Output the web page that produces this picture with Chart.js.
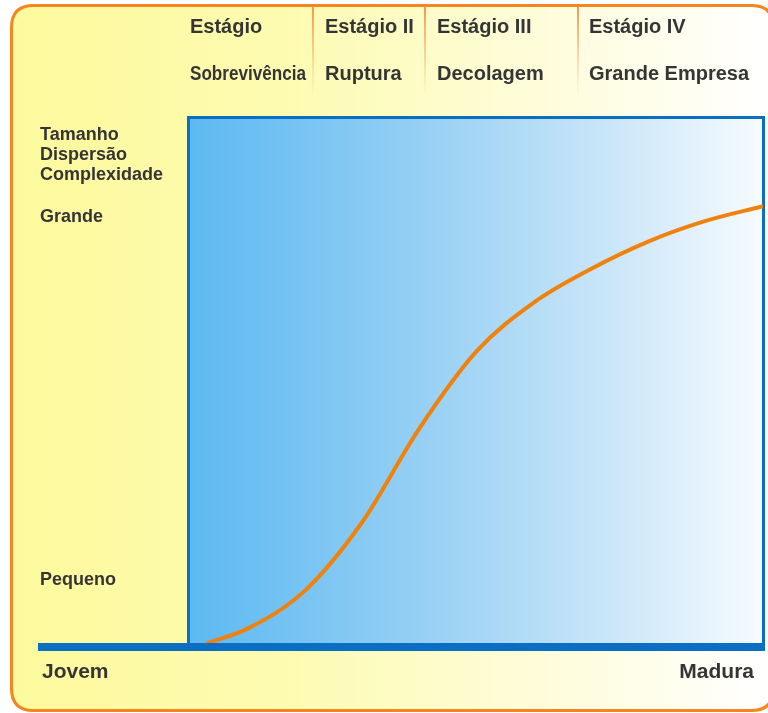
<!DOCTYPE html>
<html>
<head>
<meta charset="utf-8">
<script src="https://cdn.jsdelivr.net/npm/chart.js@4.4.1/dist/chart.umd.min.js"></script>
<style>
  html, body { margin: 0; padding: 0; background: #fff; }
  #wrap { position: relative; width: 768px; height: 713px; }
</style>
</head>
<body>
<div id="wrap"><canvas id="myChart"></canvas></div>
<script>
// curve (x: idade 0..100, y: tamanho 0..100)
const idade = [3, 10, 20, 30, 40, 50, 60, 70, 80, 90, 100];
const tamanho = [0.5, 3.2, 10.3, 23.2, 41, 55.7, 65, 71.4, 76.6, 80.5, 83.3];

// header
const stageTitles = ['Estágio', 'Estágio II', 'Estágio III', 'Estágio IV'];
const stageNames = ['Sobrevivência', 'Ruptura', 'Decolagem', 'Grande Empresa'];
// y side
const yTitle = ['Tamanho', 'Dispersão', 'Complexidade'];
const yLabels = ['Grande', 'Pequeno'];
// x side
const xLabels = ['Jovem', 'Madura'];

(() => {
  'use strict'

  const FONT = '"Liberation Sans", Arial, sans-serif';
  const TEXT = '#353535';
  const BLUE = '#0a6fc3';

  function roundRect(ctx, x, y, w, h, r) {
    ctx.beginPath();
    ctx.moveTo(x + r, y);
    ctx.lineTo(x + w - r, y);
    ctx.quadraticCurveTo(x + w, y, x + w, y + r);
    ctx.lineTo(x + w, y + h - r);
    ctx.quadraticCurveTo(x + w, y + h, x + w - r, y + h);
    ctx.lineTo(x + r, y + h);
    ctx.quadraticCurveTo(x, y + h, x, y + h - r);
    ctx.lineTo(x, y + r);
    ctx.quadraticCurveTo(x, y, x + r, y);
    ctx.closePath();
  }

  // panel, stage dividers and the blue box behind the curve
  const backdrop = {
    id: 'backdrop',
    beforeDraw(chart) {
      const {ctx, chartArea: a, width, height} = chart;
      ctx.save();
      ctx.fillStyle = '#fff';
      ctx.fillRect(0, 0, width, height);

      let g = ctx.createLinearGradient(12, 0, 768, 0);
      g.addColorStop(0, '#fdf99d');
      g.addColorStop(0.35, '#fdfbb0');
      g.addColorStop(0.75, '#fefde0');
      g.addColorStop(1, '#ffffff');
      roundRect(ctx, 11.5, 5.5, 762, 705, 22);
      ctx.fillStyle = g;
      ctx.fill();
      ctx.lineWidth = 3;
      ctx.strokeStyle = '#f5861f';
      ctx.stroke();

      // stage dividers
      [313, 425, 578].forEach(x => {
        let dg = ctx.createLinearGradient(0, 6, 0, 96);
        dg.addColorStop(0, 'rgba(240,140,60,0.9)');
        dg.addColorStop(1, 'rgba(240,170,110,0)');
        ctx.fillStyle = dg;
        ctx.fillRect(x - 1, 6, 2, 90);
      });

      // blue box
      let bg = ctx.createLinearGradient(a.left, 0, a.right, 0);
      bg.addColorStop(0, '#5cb9f1');
      bg.addColorStop(0.4, '#95cff4');
      bg.addColorStop(0.75, '#cde7f9');
      bg.addColorStop(1, '#f6fbff');
      ctx.fillStyle = bg;
      ctx.fillRect(a.left, a.top, a.right - a.left, a.bottom - a.top);
      ctx.lineWidth = 3;
      ctx.strokeStyle = BLUE;
      ctx.strokeRect(a.left - 0.5, a.top - 0.5, a.right - a.left + 1, a.bottom - a.top + 1);
      ctx.restore();
    },
    afterDatasetsDraw(chart) {
      const {ctx, chartArea: a} = chart;
      ctx.save();
      // thick base line
      ctx.fillStyle = BLUE;
      ctx.fillRect(38, a.bottom - 3, a.right + 2 - 38, 8);

      ctx.fillStyle = TEXT;
      ctx.textBaseline = 'alphabetic';
      ctx.textAlign = 'left';

      // header rows
      const stageX = [190, 325, 437, 589];
      ctx.font = 'bold 20px ' + FONT;
      stageTitles.forEach((t, i) => ctx.fillText(t, stageX[i], 33));
      stageNames.forEach((t, i) => {
        if (i === 0) ctx.fillText(t, stageX[i], 80, 116);
        else ctx.fillText(t, stageX[i], 80);
      });

      // y side
      ctx.font = 'bold 18px ' + FONT;
      yTitle.forEach((t, i) => ctx.fillText(t, 40, 140 + i * 20));
      ctx.fillText(yLabels[0], 40, 222);
      ctx.fillText(yLabels[1], 40, 585);

      // x side
      ctx.font = 'bold 21px ' + FONT;
      ctx.fillText(xLabels[0], 42, 678);
      ctx.textAlign = 'right';
      ctx.fillText(xLabels[1], 754, 678);
      ctx.restore();
    }
  };

  const ctx = document.getElementById('myChart');
  // eslint-disable-next-line no-unused-vars
  const myChart = new Chart(ctx, {
    type: 'line',
    data: {
      datasets: [{
        data: idade.map((x, i) => ({x: x, y: tamanho[i]})),
        borderColor: '#f0820c',
        borderWidth: 4,
        pointRadius: 0,
        cubicInterpolationMode: 'monotone',
        fill: false
      }]
    },
    options: {
      responsive: true,
      maintainAspectRatio: false,
      animation: false,
      layout: {
        padding: {left: 189, right: 5, top: 118, bottom: 67}
      },
      scales: {
        x: {type: 'linear', min: 0, max: 100, display: false},
        y: {type: 'linear', min: 0, max: 100, display: false}
      },
      plugins: {
        legend: {display: false},
        tooltip: {enabled: false}
      }
    },
    plugins: [backdrop]
  });
})();
</script>
</body>
</html>
